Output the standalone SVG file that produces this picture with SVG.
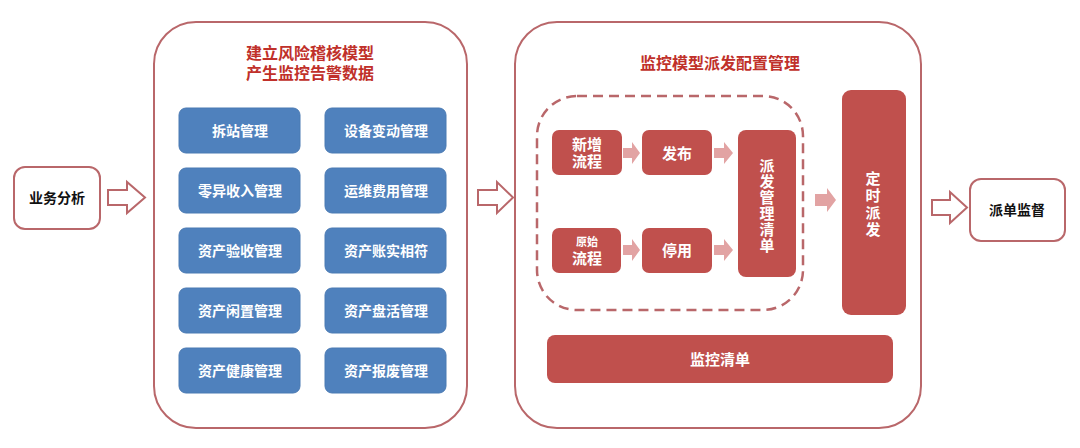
<svg xmlns="http://www.w3.org/2000/svg" width="1080" height="448" viewBox="0 0 1080 448">
<style>
.t{font-family:"Liberation Sans","Noto Sans CJK SC",sans-serif;font-weight:bold;text-anchor:middle;dominant-baseline:central}
.frame{fill:#fff;stroke:#b9676a;stroke-width:2}
.blue{fill:#4f81bd;stroke:#4a7ab3;stroke-width:1}
.red{fill:#c0504d}
.wt{fill:#fff;font-size:14px}
.rt{fill:#fff;font-size:15px}
.hollow{fill:#fff;stroke:#b9676a;stroke-width:2;stroke-linejoin:miter}
.light{fill:#e2a3a3}
.title{fill:#c0302a;font-size:16px}
</style>
<rect width="1080" height="448" fill="#fff"/>
<g id="biz"><rect class="frame" x="14" y="167" width="86" height="62" rx="11"/><text class="t" x="57" y="198" font-size="14" fill="#111">业务分析</text></g>
<g id="left-panel">
<rect class="frame" x="154" y="22" width="313" height="406" rx="42"/>
<text class="t title" x="310" y="53">建立风险稽核模型</text>
<text class="t title" x="310" y="73">产生监控告警数据</text>
</g>
<g id="n1"><rect class="blue" x="179" y="108" width="121" height="45" rx="7"/><text class="t wt" x="240" y="131">拆站管理</text></g>
<g id="n2"><rect class="blue" x="325" y="108" width="121" height="45" rx="7"/><text class="t wt" x="386" y="131">设备变动管理</text></g>
<g id="n3"><rect class="blue" x="179" y="168" width="121" height="45" rx="7"/><text class="t wt" x="240" y="191">零异收入管理</text></g>
<g id="n4"><rect class="blue" x="325" y="168" width="121" height="45" rx="7"/><text class="t wt" x="386" y="191">运维费用管理</text></g>
<g id="n5"><rect class="blue" x="179" y="228" width="121" height="45" rx="7"/><text class="t wt" x="240" y="251">资产验收管理</text></g>
<g id="n6"><rect class="blue" x="325" y="228" width="121" height="45" rx="7"/><text class="t wt" x="386" y="251">资产账实相符</text></g>
<g id="n7"><rect class="blue" x="179" y="288" width="121" height="45" rx="7"/><text class="t wt" x="240" y="311">资产闲置管理</text></g>
<g id="n8"><rect class="blue" x="325" y="288" width="121" height="45" rx="7"/><text class="t wt" x="386" y="311">资产盘活管理</text></g>
<g id="n9"><rect class="blue" x="179" y="348" width="121" height="45" rx="7"/><text class="t wt" x="240" y="371">资产健康管理</text></g>
<g id="n10"><rect class="blue" x="325" y="348" width="121" height="45" rx="7"/><text class="t wt" x="386" y="371">资产报废管理</text></g>
<g id="right-panel">
<rect class="frame" x="515" y="22" width="406" height="406" rx="42"/>
<text class="t title" x="720" y="63">监控模型派发配置管理</text>
<rect x="537" y="96" width="266" height="214" rx="40" fill="none" stroke="#b9676a" stroke-width="2.5" stroke-dasharray="10 6"/>
</g>
<g id="new"><rect class="red" x="552" y="130" width="70" height="45" rx="7"/><text class="t rt" x="587" y="144">新增</text><text class="t rt" x="587" y="161">流程</text></g>
<g id="pub"><rect class="red" x="642" y="130" width="70" height="45" rx="7"/><text class="t rt" x="677" y="153">发布</text></g>
<g id="list"><rect class="red" x="738" y="130" width="58" height="147" rx="8"/>
<text class="t rt" x="767" y="165">派</text><text class="t rt" x="767" y="181">发</text><text class="t rt" x="767" y="197">管</text><text class="t rt" x="767" y="213">理</text><text class="t rt" x="767" y="229">清</text><text class="t rt" x="767" y="245">单</text></g>
<g id="orig"><rect class="red" x="552" y="228" width="69" height="45" rx="7"/><text class="t" x="587" y="242" font-size="11" fill="#fff">原始</text><text class="t rt" x="587" y="258">流程</text></g>
<g id="stop"><rect class="red" x="642" y="228" width="70" height="45" rx="7"/><text class="t rt" x="677" y="250">停用</text></g>
<g id="timer"><rect class="red" x="842" y="90" width="64" height="225" rx="9"/>
<text class="t rt" x="873" y="178">定</text><text class="t rt" x="873" y="195">时</text><text class="t rt" x="873" y="212">派</text><text class="t rt" x="873" y="229">发</text></g>
<g id="monitor"><rect class="red" x="547" y="335" width="346" height="48" rx="8"/><text class="t rt" x="720" y="359">监控清单</text></g>
<g id="supervise"><rect class="frame" x="970" y="179" width="95" height="62" rx="11"/><text class="t" x="1017" y="210" font-size="14" fill="#111">派单监督</text></g>
<g id="connectors">
<path class="hollow" d="M108 190H127V182L145 197.5L127 213V205H108Z"/>
<path class="hollow" d="M478 190H497V182L513 197.5L497 213V205H478Z"/>
<path class="hollow" d="M932 200H950V192L967 207.5L950 223V215H932Z"/>
<path class="light" d="M623 148H632V142L640 153L632 164V158H623Z"/>
<path class="light" d="M714 148H724V142L733 153L724 164V158H714Z"/>
<path class="light" d="M623 245H632V239L640 250L632 261V255H623Z"/>
<path class="light" d="M714 245H724V239L733 250L724 261V255H714Z"/>
<path class="light" d="M815 194H827V188L836 200L827 212V206H815Z"/>
</g>
</svg>
